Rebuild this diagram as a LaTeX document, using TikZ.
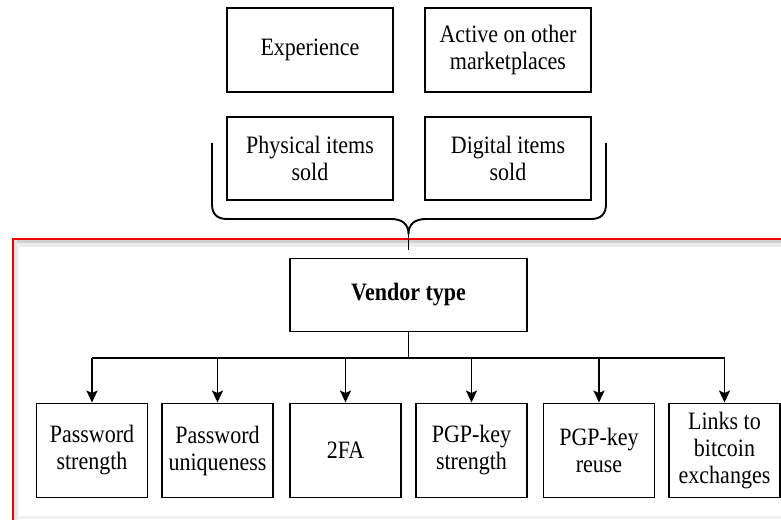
\documentclass[tikz,border=0pt]{standalone}
\usepackage{fontspec}
\setmainfont[FakeStretch=0.88]{Liberation Serif}
\usetikzlibrary{arrows.meta}
\tikzset{
  box/.style={draw, line width=1.9pt, minimum width=166pt, minimum height=84pt,
    align=center, inner sep=0.5pt, font=\fontsize{25}{27}\selectfont},
  leaf/.style={box, minimum width=111pt, minimum height=94pt},
  link/.style={line width=1.9pt},
  arr/.style={link, -{Stealth[length=12pt,width=11pt,inset=2.5pt]}}
}
\begin{document}
\begin{tikzpicture}[x=1pt,y=-1pt]
\useasboundingbox (0,0) rectangle (781,519);
\begin{scope}
\clip (0,0) rectangle (781,519);
% soft shadow along the inside of the highlighted frame
\fill[black!18] (14,239.5) rectangle (790,243);
\fill[black!8] (14,243) rectangle (790,246.5);
\fill[black!11] (14,239.5) rectangle (16.5,530);
\fill[black!5] (16.5,243) rectangle (19,530);
\fill[black!6] (19,516) rectangle (790,519);
% red frame (open to the right and bottom)
\draw[red!95!black, line width=2pt] (800,238.5) -- (12.7,238.5) -- (12.7,530);
\end{scope}

% inputs
\node[box] (exp)  at (310,50)    {Experience};
\node[box] (act)  at (508,50)    {Active on other\\marketplaces};
\node[box] (phys) at (310,158.5) [minimum height=83pt] {Physical items\\sold};
\node[box] (dig)  at (508,158.5) [minimum height=83pt] {Digital items\\sold};

% curly brace gathering the inputs
\coordinate (tip) at (408.5,234);
\coordinate (stem) at (408.5,250);
\draw[link] (212,143) -- (212,204) .. controls (212,214) and (217,219) .. (227,219)
  -- (391,219) .. controls (402,219) and (408.5,224) .. (tip)
  .. controls (408.5,224) and (415,219) .. (426,219)
  -- (591,219) .. controls (601,219) and (606,214) .. (606,204) -- (606,143);
\draw[link] (tip) -- (stem);

% central node
\node[box, minimum width=237pt, minimum height=73pt] (vendor) at (408.5,295)
  {\bfseries Vendor type};

% outcomes
\node[leaf] (c1) at (92,450.5)    {Password\\strength};
\node[leaf] (c2) at (217.5,450.5) {Password\\uniqueness};
\node[leaf] (c3) at (345.5,450.5) {2FA};
\node[leaf] (c4) at (471.5,450.5) {PGP-key\\strength};
\node[leaf] (c5) at (599,450.5)   {PGP-key\\reuse};
\node[leaf] (c6) at (724.5,450.5) {Links to\\bitcoin\\exchanges};

% distribution bus
\coordinate (bus) at (408.5,358);
\draw[link] (vendor.south) -- (bus);
\draw[link] (bus -| c1.north) -- (bus -| c6.north);
\foreach \c in {c1,c2,c3,c4,c5,c6}
  \draw[arr] (bus -| \c.north) -- (\c.north);
\end{tikzpicture}
\end{document}
